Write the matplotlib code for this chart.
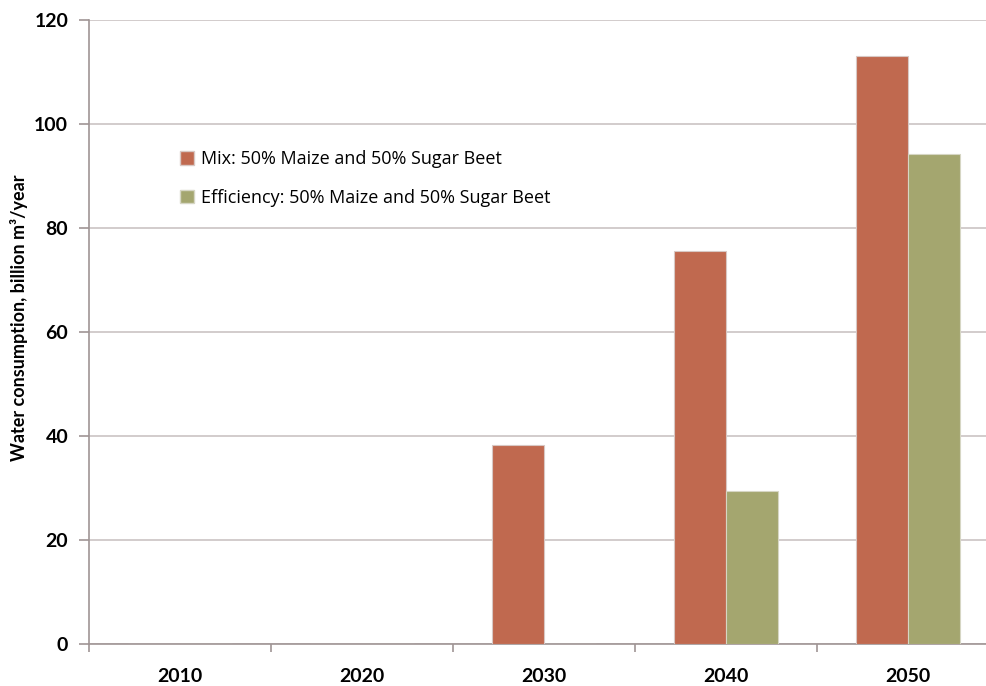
import matplotlib
matplotlib.use("Agg")
import matplotlib.pyplot as plt
import numpy as np
from matplotlib.patches import Patch

years = ["2010", "2020", "2030", "2040", "2050"]
mix_values = [0, 0, 38.3, 75.6, 113.1]
efficiency_values = [0, 0, 0, 29.4, 94.2]
series_labels = ["Mix: 50% Maize and 50% Sugar Beet",
                 "Efficiency: 50% Maize and 50% Sugar Beet"]
y_ticks = [0, 20, 40, 60, 80, 100, 120]

plt.rcParams['font.family'] = ['Lato', 'DejaVu Sans']

W, H = 987, 686
fig = plt.figure(figsize=(W / 100, H / 100), dpi=100)
left, right, bottom, top = 89, 987, 644, 20
ax = fig.add_axes([left / W, 1 - bottom / H, (right - left) / W, (bottom - top) / H])

mix_color = "#C0694F"
eff_color = "#A4A66F"
grid_color = "#CBC3C3"
axis_color = "#A09595"

x = np.arange(len(years))
bw = 0.286
ax.bar(x - bw / 2, mix_values, width=bw, color=mix_color,
       edgecolor="#D8C8C4", linewidth=0.8, zorder=3)
ax.bar(x + bw / 2, efficiency_values, width=bw, color=eff_color,
       edgecolor="#D6D6C4", linewidth=0.8, zorder=3)

ax.set_yticks(y_ticks)
ax.set_yticklabels([str(v) for v in y_ticks], fontsize=14, fontweight='bold')
ax.yaxis.grid(True, color=grid_color, linewidth=1.2, zorder=0)
ax.set_axisbelow(True)

# category labels centred, ticks at category boundaries
ax.set_xticks(x)
ax.set_xticklabels(years, fontsize=14, fontweight='bold')
ax.tick_params(axis='x', which='major', length=0, pad=17)
ax.set_xticks(np.arange(len(years) + 1) - 0.5, minor=True)
ax.tick_params(axis='x', which='minor', length=6, width=1.2, color=axis_color,
               direction='out')
ax.tick_params(axis='y', length=7, width=1.2, color=axis_color, pad=8)

cat_px = 182
ax.set_xlim(-0.5, -0.5 + (right - left) / cat_px)
ax.set_ylim(0, 120)

for side in ['top', 'right']:
    ax.spines[side].set_visible(False)
for side in ['left', 'bottom']:
    ax.spines[side].set_color(axis_color)
    ax.spines[side].set_linewidth(1.2)

fig.text(19 / W, 1 - 318 / H, "Water consumption, billion m³/year",
         rotation=90, ha='center', va='center', fontsize=13, fontweight='bold')

handles = [Patch(facecolor=mix_color, edgecolor="#D8C8C4"),
           Patch(facecolor=eff_color, edgecolor="#D6D6C4")]
leg = ax.legend(handles, series_labels, loc='upper left',
                bbox_to_anchor=((164 - left) / (right - left), (bottom - 134) / (bottom - top)),
                frameon=False, prop={'family': 'Open Sans', 'size': 13},
                handlelength=0.75, handleheight=0.75,
                handletextpad=0.4, labelspacing=1.15)

fig.savefig("out.png", dpi=100)
